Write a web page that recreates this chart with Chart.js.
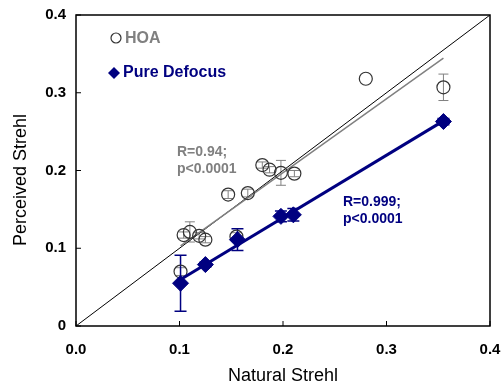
<!DOCTYPE html>
<html>
<head>
<meta charset="utf-8">
<script src="https://cdn.jsdelivr.net/npm/chart.js@4/dist/chart.umd.min.js"></script>
<style>
  html, body { margin: 0; padding: 0; background: #fff; }
</style>
</head>
<body>
<canvas id="strehlChart" width="501" height="385"></canvas>
<script>
// HOA (open circles)
const hoaX = [0.101, 0.104, 0.110, 0.119, 0.125, 0.155, 0.147, 0.166, 0.180, 0.187, 0.198, 0.211, 0.280, 0.355];
const hoaY = [0.070, 0.117, 0.121, 0.116, 0.111, 0.115, 0.169, 0.171, 0.207, 0.201, 0.197, 0.196, 0.318, 0.307];
const hoaErr = [0.005, 0.004, 0.013, 0.004, 0.004, 0.005, 0.005, 0.005, 0.004, 0.004, 0.016, 0.004, 0.000, 0.017];

// Pure defocus (filled diamonds)
const defX = [0.101, 0.125, 0.156, 0.198, 0.210, 0.355];
const defY = [0.055, 0.079, 0.111, 0.141, 0.143, 0.263];
const defErr = [0.036, 0.003, 0.014, 0.007, 0.008, 0.004];

const identityX = [0, 0.4];
const tickValues = [0, 0.1, 0.2, 0.3, 0.4];

const GRAY = '#808080';
const NAVY = '#000080';
const FONT = '"Liberation Sans", Arial, Helvetica, sans-serif';

function toPoints(xs, ys) {
    return xs.map((x, i) => ({ x: x, y: ys[i] }));
}

// least squares fit, drawn from smallest to largest x
function fitLine(xs, ys) {
    let n = xs.length;
    let mx = xs.reduce((a, b) => a + b, 0) / n;
    let my = ys.reduce((a, b) => a + b, 0) / n;
    let sxy = 0, sxx = 0;
    for (let i = 0; i < n; i++) {
        sxy += (xs[i] - mx) * (ys[i] - my);
        sxx += (xs[i] - mx) * (xs[i] - mx);
    }
    let slope = sxy / sxx;
    let icept = my - slope * mx;
    let x0 = Math.min(...xs), x1 = Math.max(...xs);
    return [{ x: x0, y: icept + slope * x0 }, { x: x1, y: icept + slope * x1 }];
}

const extras = {
    id: 'extras',
    beforeDatasetsDraw(chart) {
        let ctx = chart.ctx;
        let xs = chart.scales.x, ys = chart.scales.y;
        function bars(xArr, yArr, eArr, color, width, cap) {
            ctx.save();
            ctx.strokeStyle = color;
            ctx.lineWidth = width;
            xArr.forEach((x, i) => {
                if (!eArr[i]) return;
                let px = xs.getPixelForValue(x);
                let top = ys.getPixelForValue(yArr[i] + eArr[i]);
                let bot = ys.getPixelForValue(yArr[i] - eArr[i]);
                ctx.beginPath();
                ctx.moveTo(px, top); ctx.lineTo(px, bot);
                ctx.moveTo(px - cap, top); ctx.lineTo(px + cap, top);
                ctx.moveTo(px - cap, bot); ctx.lineTo(px + cap, bot);
                ctx.stroke();
            });
            ctx.restore();
        }
        bars(hoaX, hoaY, hoaErr, GRAY, 1, 5);
        bars(defX, defY, defErr, NAVY, 1.5, 6);
    },
    afterDraw(chart) {
        let ctx = chart.ctx;
        let a = chart.chartArea;
        let xs = chart.scales.x, ys = chart.scales.y;
        ctx.save();
        // frame
        ctx.strokeStyle = '#000';
        ctx.lineWidth = 1.5;
        ctx.strokeRect(a.left, a.top, a.right - a.left, a.bottom - a.top);
        // inner tick marks
        ctx.lineWidth = 1;
        tickValues.forEach(v => {
            let py = ys.getPixelForValue(v);
            ctx.beginPath(); ctx.moveTo(a.left, py); ctx.lineTo(a.left + 5, py); ctx.stroke();
            let px = xs.getPixelForValue(v);
            ctx.beginPath(); ctx.moveTo(px, a.bottom); ctx.lineTo(px, a.bottom - 5); ctx.stroke();
        });

        // y axis title
        ctx.save();
        ctx.translate(21, 180);
        ctx.rotate(-Math.PI / 2);
        ctx.font = '18px ' + FONT;
        ctx.fillStyle = '#000';
        ctx.textAlign = 'center';
        ctx.textBaseline = 'middle';
        ctx.fillText('Perceived Strehl', 0, 0);
        ctx.restore();

        // legend
        ctx.strokeStyle = '#333';
        ctx.lineWidth = 1.2;
        ctx.beginPath(); ctx.arc(a.left + 40, a.top + 23, 5, 0, Math.PI * 2); ctx.stroke();
        ctx.fillStyle = NAVY;
        let dx = a.left + 38, dy = a.top + 58;
        ctx.beginPath();
        ctx.moveTo(dx, dy - 6); ctx.lineTo(dx + 6, dy); ctx.lineTo(dx, dy + 6); ctx.lineTo(dx - 6, dy);
        ctx.closePath(); ctx.fill();

        ctx.textBaseline = 'middle';
        ctx.textAlign = 'left';
        ctx.font = 'bold 16px ' + FONT;
        ctx.fillStyle = GRAY;
        ctx.fillText('HOA', a.left + 49, a.top + 24);
        ctx.fillStyle = NAVY;
        ctx.fillText('Pure Defocus', a.left + 47, a.top + 58);

        // fit statistics
        ctx.font = 'bold 14px ' + FONT;
        ctx.fillStyle = GRAY;
        ctx.fillText('R=0.94;', a.left + 101, a.top + 137);
        ctx.fillText('p<0.0001', a.left + 101, a.top + 154);
        ctx.fillStyle = NAVY;
        ctx.fillText('R=0.999;', a.left + 267, a.top + 187);
        ctx.fillText('p<0.0001', a.left + 267, a.top + 204);
        ctx.restore();
    }
};

let ctx = document.getElementById('strehlChart').getContext('2d');

new Chart(ctx, {
    type: 'scatter',
    data: {
        datasets: [
            {
                label: 'Identity',
                type: 'line',
                data: toPoints(identityX, identityX),
                borderColor: '#000',
                borderWidth: 1,
                pointRadius: 0,
                order: 4
            },
            {
                label: 'HOA fit',
                type: 'line',
                data: fitLine(hoaX, hoaY),
                borderColor: GRAY,
                borderWidth: 1.5,
                pointRadius: 0,
                order: 3
            },
            {
                label: 'HOA',
                data: toPoints(hoaX, hoaY),
                pointStyle: 'circle',
                pointRadius: 6.5,
                borderColor: '#333',
                borderWidth: 1.2,
                backgroundColor: 'rgba(0,0,0,0)',
                order: 2
            },
            {
                label: 'Defocus fit',
                type: 'line',
                data: fitLine(defX, defY),
                borderColor: NAVY,
                borderWidth: 3,
                pointRadius: 0,
                order: 1
            },
            {
                label: 'Pure Defocus',
                data: toPoints(defX, defY),
                pointStyle: 'rectRot',
                pointRadius: 8,
                borderColor: NAVY,
                backgroundColor: NAVY,
                borderWidth: 1,
                order: 0
            }
        ]
    },
    options: {
        responsive: false,
        animation: false,
        layout: { padding: { top: 15, right: 11, left: 0, bottom: 0 } },
        plugins: {
            legend: { display: false },
            tooltip: { enabled: false }
        },
        scales: {
            x: {
                type: 'linear',
                min: 0,
                max: 0.4,
                afterFit: s => { s.height = 59; s.paddingLeft = 0; s.paddingRight = 0; },
                grid: { display: false, drawTicks: false },
                border: { display: false },
                ticks: {
                    stepSize: 0.1,
                    padding: 15,
                    color: '#000',
                    font: { family: FONT, size: 15, weight: 'bold' },
                    callback: v => v.toFixed(1)
                },
                title: {
                    display: true,
                    text: 'Natural Strehl',
                    color: '#000',
                    padding: { top: 0, bottom: 0 },
                    font: { family: FONT, size: 18, lineHeight: 1 }
                }
            },
            y: {
                type: 'linear',
                min: 0,
                max: 0.4,
                afterFit: s => { s.width = 76; s.paddingTop = 0; s.paddingBottom = 0; },
                grid: { display: false, drawTicks: false },
                border: { display: false },
                ticks: {
                    stepSize: 0.1,
                    padding: 10,
                    color: '#000',
                    font: { family: FONT, size: 15, weight: 'bold' },
                    callback: v => v === 0 ? '0' : v.toFixed(1)
                },
                title: { display: false }
            }
        }
    },
    plugins: [extras]
});
</script>
</body>
</html>
